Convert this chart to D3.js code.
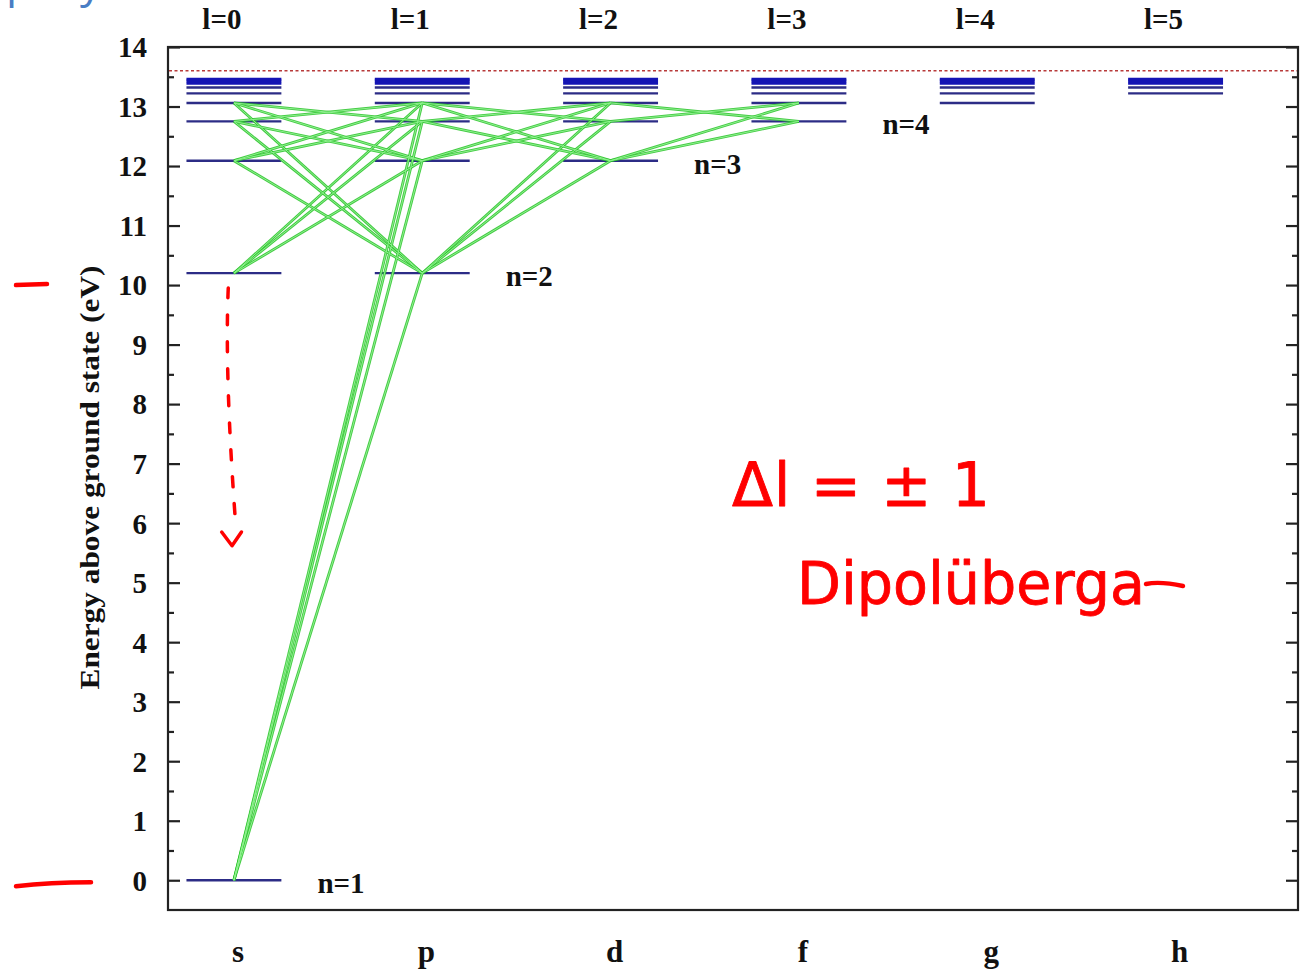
<!DOCTYPE html>
<html>
<head>
<meta charset="utf-8">
<script src="https://cdn.jsdelivr.net/npm/d3@7"></script>
<style>
  html, body { margin: 0; padding: 0; background: #fff; }
  svg { display: block; }
  .serif { font-family: "Liberation Serif", "Times New Roman", serif; font-weight: bold; fill: #111; }
  .hand { font-family: "DejaVu Sans", sans-serif; fill: #ff0000; stroke: #ff0000; stroke-width: 0.8; stroke-linejoin: round; }
</style>
</head>
<body>
<script>
// Orbital angular momentum columns
const orbitalLetters = ["s", "p", "d", "f", "g", "h"];
const orbitalL = [0, 1, 2, 3, 4, 5];
const lLabels = ["l=0", "l=1", "l=2", "l=3", "l=4", "l=5"];

// Hydrogen term energies above the ground state (eV), principal quantum number n = 1..10
const principalN = [1, 2, 3, 4, 5, 6, 7, 8, 9, 10];
const levelEnergy = [0.00, 10.20, 12.09, 12.75, 13.06, 13.22, 13.32, 13.39, 13.43, 13.46];
const ionizationEnergy = 13.6;

// Shell labels placed beside the highest-l level of each shell
const shellLabels = ["n=1", "n=2", "n=3", "n=4"];
const shellLabelN = [1, 2, 3, 4];

// Dipole transitions (Δl = ±1) drawn between shells up to this n and columns up to this l
const transitionMaxN = 5;
const transitionMaxL = 3;

// Energy axis ticks
const majorTicks = [0, 1, 2, 3, 4, 5, 6, 7, 8, 9, 10, 11, 12, 13, 14];
const minorTicks = [0.5, 1.5, 2.5, 3.5, 4.5, 5.5, 6.5, 7.5, 8.5, 9.5, 10.5, 11.5, 12.5, 13.5];

const W = 1304, H = 969;
const plot = { left: 168, right: 1298, top: 47, bottom: 910 };

const svg = d3.select("body").append("svg").attr("width", W).attr("height", H);

const x = d3.scaleLinear().domain([-0.35, 5.65]).range([plot.left, plot.right]);
const y = d3.scaleLinear().domain([-0.5, 14]).range([plot.bottom, plot.top]);
const halfWidth = 0.252;

// Level table: every (n, l) with l < n
const levels = [];
principalN.forEach((n, i) => {
  orbitalL.forEach(l => {
    if (l < n) levels.push({ n, l, E: levelEnergy[i] });
  });
});

// Transition table from the selection rule
const transitions = [];
levels.forEach(a => {
  levels.forEach(b => {
    if (a.n <= transitionMaxN && b.n <= transitionMaxN &&
        a.l <= transitionMaxL && b.l <= transitionMaxL &&
        b.l === a.l + 1 && a.n !== b.n) {
      transitions.push({ a, b });
    }
  });
});

// Frame
svg.append("rect")
  .attr("x", plot.left).attr("y", plot.top)
  .attr("width", plot.right - plot.left).attr("height", plot.bottom - plot.top)
  .attr("fill", "none").attr("stroke", "#222").attr("stroke-width", 2.2);

// Left axis: major ticks with labels, minor ticks; mirrored ticks on the right
const leftMajor = svg.append("g").attr("transform", `translate(${plot.left},0)`)
  .call(d3.axisLeft(y).tickValues(majorTicks).tickSize(-12).tickPadding(21).tickFormat(d3.format("d")));
const leftMinor = svg.append("g").attr("transform", `translate(${plot.left},0)`)
  .call(d3.axisLeft(y).tickValues(minorTicks).tickSize(-6).tickFormat(""));
const rightMajor = svg.append("g").attr("transform", `translate(${plot.right},0)`)
  .call(d3.axisRight(y).tickValues(majorTicks).tickSize(-12).tickFormat(""));
const rightMinor = svg.append("g").attr("transform", `translate(${plot.right},0)`)
  .call(d3.axisRight(y).tickValues(minorTicks).tickSize(-6).tickFormat(""));
[leftMajor, leftMinor, rightMajor, rightMinor].forEach(g => {
  g.select(".domain").remove();
  g.selectAll(".tick line").attr("stroke", "#222").attr("stroke-width", 2.2);
});
leftMajor.selectAll(".tick text")
  .attr("class", "serif").attr("font-size", 29).attr("dy", "0.34em");

// Ionization limit
svg.append("line")
  .attr("x1", plot.left + 1).attr("x2", plot.right - 1)
  .attr("y1", y(ionizationEnergy)).attr("y2", y(ionizationEnergy))
  .attr("stroke", "#b83a3a").attr("stroke-width", 1.6)
  .attr("stroke-dasharray", "3,2.5");

// Energy levels
svg.append("g").selectAll("line").data(levels).join("line")
  .attr("x1", d => x(d.l - halfWidth)).attr("x2", d => x(d.l + halfWidth))
  .attr("y1", d => y(d.E)).attr("y2", d => y(d.E))
  .attr("stroke", d => d.n >= 8 ? "#1414b4" : "#2c2c86").attr("stroke-width", d => d.n >= 8 ? 2.8 : 2.4);

// Transitions: green outline with light core
const tg = svg.append("g");
tg.selectAll("line.outer").data(transitions).join("line").attr("class", "outer")
  .attr("x1", d => x(d.a.l)).attr("y1", d => y(d.a.E))
  .attr("x2", d => x(d.b.l)).attr("y2", d => y(d.b.E))
  .attr("stroke", "#2fc52f").attr("stroke-width", 2.8).attr("stroke-opacity", 0.9);
tg.selectAll("line.inner").data(transitions).join("line").attr("class", "inner")
  .attr("x1", d => x(d.a.l)).attr("y1", d => y(d.a.E))
  .attr("x2", d => x(d.b.l)).attr("y2", d => y(d.b.E))
  .attr("stroke", "#8ff08f").attr("stroke-width", 1);

// Shell labels
svg.append("g").selectAll("text").data(shellLabels).join("text")
  .attr("class", "serif").attr("font-size", 29)
  .attr("x", (d, i) => x(shellLabelN[i] - 1 + halfWidth) + 36)
  .attr("y", (d, i) => y(levelEnergy[principalN.indexOf(shellLabelN[i])]) + 13)
  .text(d => d);

// Column labels: l values above, orbital letters below
svg.append("g").selectAll("text").data(lLabels).join("text")
  .attr("class", "serif").attr("font-size", 29).attr("text-anchor", "middle")
  .attr("x", (d, i) => x(orbitalL[i]) - 12).attr("y", 29)
  .text(d => d);
svg.append("g").selectAll("text").data(orbitalLetters).join("text")
  .attr("class", "serif").attr("font-size", 31).attr("text-anchor", "middle")
  .attr("x", (d, i) => x(orbitalL[i]) + 4).attr("y", 962)
  .text(d => d);

// Axis title
svg.append("text")
  .attr("class", "serif").attr("font-size", 27).attr("text-anchor", "middle")
  .attr("transform", `translate(99,${(265 + 690) / 2}) rotate(-90)`)
  .attr("textLength", 424).attr("lengthAdjust", "spacingAndGlyphs")
  .text("Energy above ground state (eV)");

// Slide heading remnant in the top-left corner
svg.append("text").attr("x", 6).attr("y", -3)
  .attr("font-family", "Open Sans, sans-serif").attr("font-size", 44).attr("fill", "#4a7dc4")
  .text("p");
svg.append("text").attr("x", 80).attr("y", -3)
  .attr("font-family", "Open Sans, sans-serif").attr("font-size", 44).attr("fill", "#4a7dc4")
  .text("y");

// Red pen annotations
const pen = svg.append("g").attr("fill", "none").attr("stroke", "#ff0000")
  .attr("stroke-linecap", "round").attr("stroke-linejoin", "round");
pen.append("line").attr("x1", 16).attr("x2", 47).attr("y1", y(10) + 0).attr("y2", y(10) - 1)
  .attr("stroke-width", 4.5);
pen.append("path")
  .attr("d", `M16,${y(0) + 6} Q50,${y(0) + 2} 91,${y(0) + 2}`)
  .attr("stroke-width", 4.5);
pen.append("path")
  .attr("d", `M${x(-0.03)},${y(9.95)} Q${x(-0.05)},${y(8.5)} ${x(0.01)},${y(5.95)}`)
  .attr("stroke-width", 3.5).attr("stroke-dasharray", "10,17");
pen.append("path")
  .attr("d", `M${x(-0.065)},${y(5.85)} L${x(-0.01)},${y(5.62)} L${x(0.04)},${y(5.85)}`)
  .attr("stroke-width", 3.5);

svg.append("text").attr("class", "hand").attr("font-size", 60)
  .attr("x", 732).attr("y", 506)
  .attr("textLength", 258).attr("lengthAdjust", "spacing")
  .text("Δl = ± 1");
svg.append("text").attr("class", "hand").attr("font-size", 58)
  .attr("x", 797).attr("y", 604)
  .attr("textLength", 348).attr("lengthAdjust", "spacingAndGlyphs")
  .text("Dipolüberga");
pen.append("path").attr("d", "M1146,584 Q1160,581 1183,586").attr("stroke-width", 4.5);
</script>
</body>
</html>
